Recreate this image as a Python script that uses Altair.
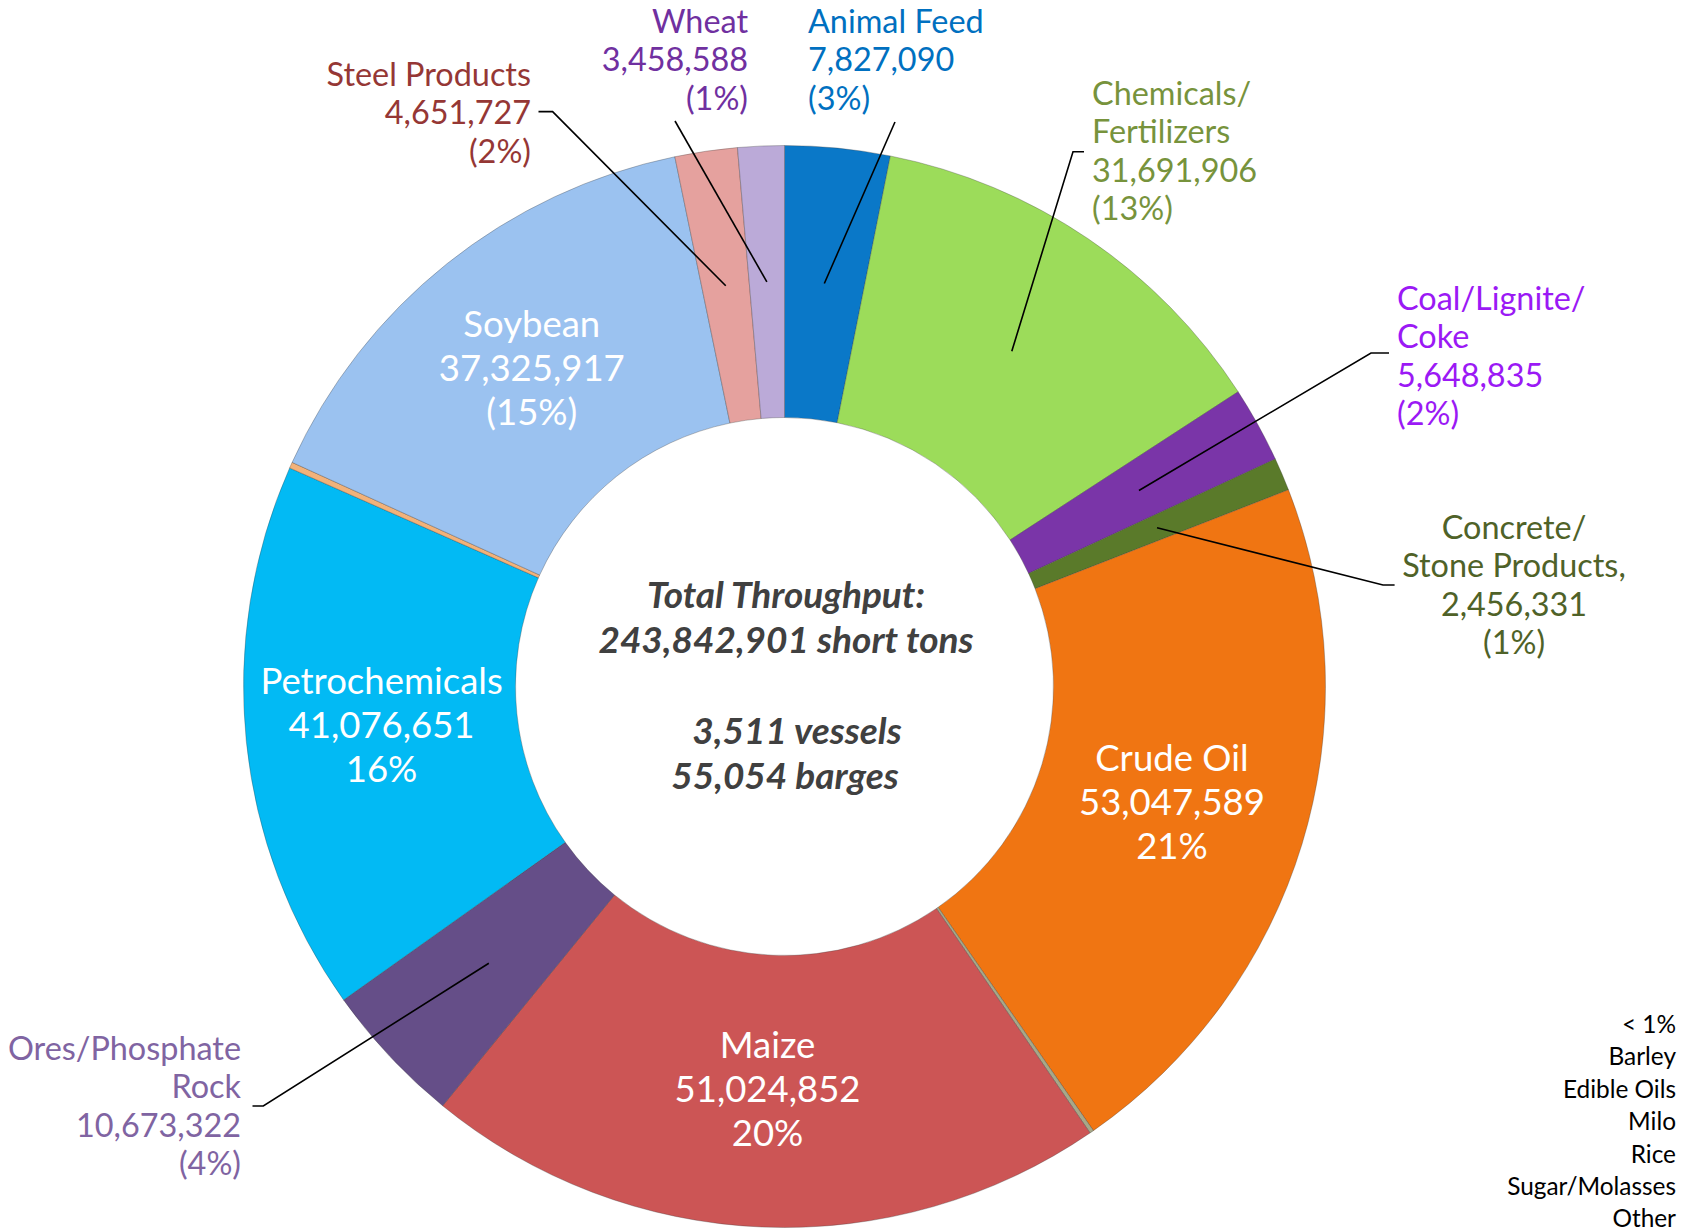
import math
import altair as alt
import pandas as pd

# ---------------- data ----------------
categories = ["Animal Feed", "Chemicals/Fertilizers", "Coal/Lignite/Coke",
              "Concrete/Stone Products", "Crude Oil", "Edible Oils", "Maize",
              "Ores/Phosphate Rock", "Petrochemicals", "Rice", "Soybean",
              "Steel Products", "Wheat"]
display_names = ["Animal Feed", "Chemicals/\nFertilizers", "Coal/Lignite/\nCoke",
                 "Concrete/\nStone Products,", "Crude Oil", "Edible Oils", "Maize",
                 "Ores/Phosphate\nRock", "Petrochemicals", "Rice", "Soybean",
                 "Steel Products", "Wheat"]
tons = [7827090, 31691906, 5648835, 2456331, 53047589, 300000, 51024852,
        10673322, 41076651, 450000, 37325917, 4651727, 3458588]
pct_text = ["(3%)", "(13%)", "(2%)", "(1%)", "21%", "", "20%", "(4%)", "16%",
            "", "(15%)", "(2%)", "(1%)"]
label_place = ["outside", "outside", "outside", "outside", "inside", "none",
               "inside", "outside", "inside", "none", "inside", "outside", "outside"]

center_title = "Total Throughput:\n243,842,901 short tons"
vessels_text = "3,511 vessels"
barges_text = "55,054 barges"
minor_lines = ["< 1%", "Barley", "Edible Oils", "Milo", "Rice", "Sugar/Molasses", "Other"]

# ---------------- styles / layout ----------------
slice_colors = ["#0A78C8", "#9CDC5A", "#7A35A8", "#5A7A2A", "#F07512", "#A8A888",
                "#CC5555", "#654E88", "#02BAF4", "#F2B27A", "#9BC2F0", "#E5A19E",
                "#BBAAD8"]
label_colors = ["#0070C0", "#77933C", "#9B19F5", "#4F6228", "#FFFFFF", "#000000",
                "#FFFFFF", "#8064A2", "#FFFFFF", "#000000", "#FFFFFF", "#953735",
                "#7030A0"]

W, H = 1699, 1231
CX, CY = 784.5, 686.5          # pie centre on the page
R_OUT, R_IN, R_MID = 541, 269, 405
INNER_LH = 44
OUTER_LH = 38.3

# outside label anchors (page px, first line), alignment and leader elbow points
outside_layout = {
    "Steel Products": dict(x=531, y=76, align="right",
                           leader=[(538.5, 111.6), (552.6, 111.6)]),
    "Wheat": dict(x=748, y=23, align="right", leader=[(675, 121)]),
    "Animal Feed": dict(x=808, y=23, align="left", leader=[(895, 122)]),
    "Chemicals/Fertilizers": dict(x=1092, y=95, align="left",
                                  leader=[(1084, 151.7), (1073, 151.7)]),
    "Coal/Lignite/Coke": dict(x=1397, y=300, align="left",
                              leader=[(1389, 353), (1371, 353)]),
    "Concrete/Stone Products": dict(x=1514, y=529, align="center",
                                    leader=[(1394.6, 585), (1383, 585)]),
    "Ores/Phosphate Rock": dict(x=241, y=1050, align="right",
                                leader=[(252.5, 1106), (263.3, 1106)]),
}

xscale = alt.Scale(domain=[-CX, W - CX], nice=False, zero=False)
yscale = alt.Scale(domain=[-CY, H - CY], nice=False, zero=False, reverse=True)

# ---------------- tables ----------------
slices = pd.DataFrame({
    "idx": list(range(len(categories))),
    "category": categories,
    "tons": tons,
    "cx": 0.0,
    "cy": 0.0,
    "inner_text": [f"{d}\n{v:,}\n{p}" if pl == "inside" else ""
                   for d, v, p, pl in zip(display_names, tons, pct_text, label_place)],
})

total = float(sum(tons))
mid_angle = {}
cum = 0.0
for c, v in zip(categories, tons):
    mid_angle[c] = (cum + v / 2.0) / total * 2 * math.pi
    cum += v

label_rows, leader_rows = [], []
for i, c in enumerate(categories):
    if label_place[i] != "outside":
        continue
    lay = outside_layout[c]
    label_rows.append(dict(category=c, x=lay["x"] - CX, y=lay["y"] - CY,
                           align=lay["align"], color=label_colors[i],
                           text=f"{display_names[i]}\n{tons[i]:,}\n{pct_text[i]}"))
    a = mid_angle[c]
    pts = [(R_MID * math.sin(a), -R_MID * math.cos(a))]
    for (px, py) in reversed(lay["leader"]):
        pts.append((px - CX, py - CY))
    for k, (px, py) in enumerate(pts):
        leader_rows.append(dict(category=c, ord=k, x=px, y=py))
labels = pd.DataFrame(label_rows)
leaders = pd.DataFrame(leader_rows)

center_df = pd.DataFrame([
    dict(x=786 - CX, y=597 - CY, text=center_title),
    dict(x=797 - CX, y=733 - CY, text=vessels_text),
    dict(x=785 - CX, y=778 - CY, text=barges_text),
])
minor_df = pd.DataFrame([dict(x=1676 - CX, y=1026 - CY, text="\n".join(minor_lines))])

# ---------------- chart ----------------
donut = alt.Chart(slices).mark_arc(
    radius=R_OUT, radius2=R_IN, stroke="#3a3a3a", strokeWidth=0.7, strokeOpacity=0.45
).encode(
    x=alt.X("cx:Q", scale=xscale, axis=None),
    y=alt.Y("cy:Q", scale=yscale, axis=None),
    theta=alt.Theta("tons:Q", stack=True),
    order=alt.Order("idx:Q"),
    color=alt.Color("category:N", scale=alt.Scale(domain=categories, range=slice_colors),
                    legend=None),
)

inner_labels = alt.Chart(slices).mark_text(
    radius=R_MID, font="Lato", fontSize=36.5, lineHeight=INNER_LH, dy=-INNER_LH,
    color="white", align="center", baseline="middle", lineBreak="\n"
).encode(
    x=alt.X("cx:Q", scale=xscale, axis=None),
    y=alt.Y("cy:Q", scale=yscale, axis=None),
    theta=alt.Theta("tons:Q", stack=True),
    order=alt.Order("idx:Q"),
    detail="category:N",
    text="inner_text:N",
)

leader_lines = alt.Chart(leaders).mark_line(color="black", strokeWidth=1.6).encode(
    x=alt.X("x:Q", scale=xscale, axis=None),
    y=alt.Y("y:Q", scale=yscale, axis=None),
    detail="category:N",
    order=alt.Order("ord:Q"),
)

outer_layers = []
for al in ["left", "right", "center"]:
    outer_layers.append(
        alt.Chart(labels).transform_filter(alt.datum.align == al).mark_text(
            font="Lato", fontSize=32.4, lineHeight=OUTER_LH, align=al,
            baseline="middle", lineBreak="\n"
        ).encode(
            x=alt.X("x:Q", scale=xscale, axis=None),
            y=alt.Y("y:Q", scale=yscale, axis=None),
            text="text:N",
            color=alt.Color("color:N", scale=None),
        )
    )

center_text = alt.Chart(center_df).mark_text(
    font="Lato", fontSize=37, fontStyle="italic", fontWeight="bold",
    color="#404040", lineHeight=45, align="center", baseline="middle", lineBreak="\n"
).encode(
    x=alt.X("x:Q", scale=xscale, axis=None),
    y=alt.Y("y:Q", scale=yscale, axis=None),
    text="text:N",
)

minor_text = alt.Chart(minor_df).mark_text(
    font="Lato", fontSize=24.4, color="black", lineHeight=32.4,
    align="right", baseline="middle", lineBreak="\n"
).encode(
    x=alt.X("x:Q", scale=xscale, axis=None),
    y=alt.Y("y:Q", scale=yscale, axis=None),
    text="text:N",
)

chart = alt.layer(
    donut, inner_labels, leader_lines, *outer_layers, center_text, minor_text
).properties(
    width=W, height=H, padding=0,
    autosize=alt.AutoSizeParams(type="none"),
    background="white",
).configure_view(strokeWidth=0)

chart.save("out.html", embed_options={"renderer": "svg", "actions": False})
